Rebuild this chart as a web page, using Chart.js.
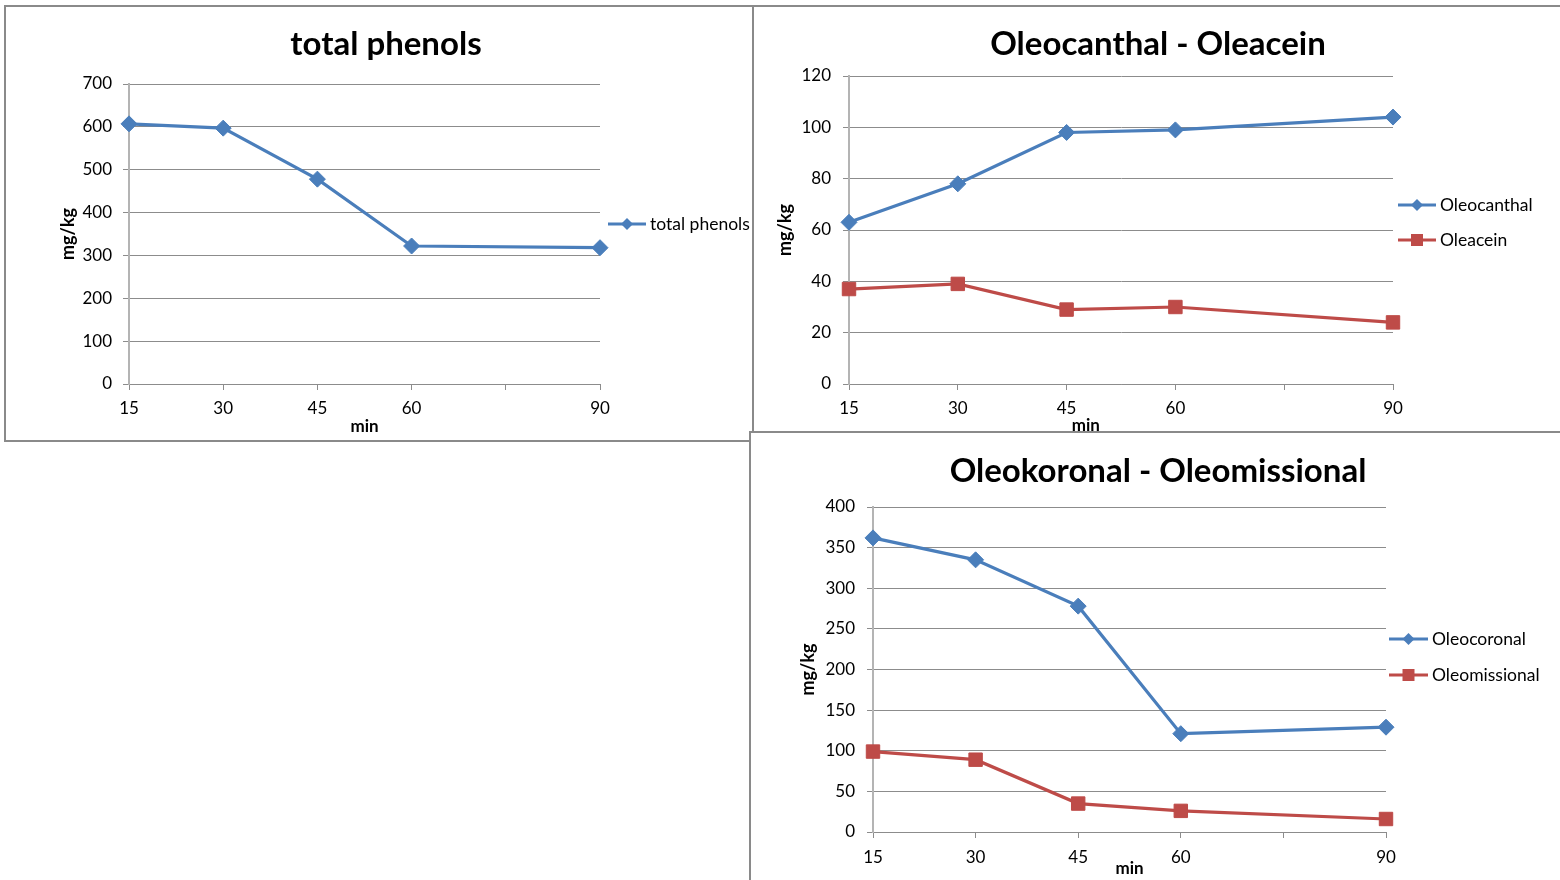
<!DOCTYPE html>
<html>
<head>
<meta charset="utf-8">
<script src="https://cdn.jsdelivr.net/npm/chart.js@4.4.1/dist/chart.umd.min.js"></script>
<style>
  html, body { margin:0; padding:0; background:#fff; width:1560px; height:880px; overflow:hidden; }
  .box { position:absolute; border:2px solid #8a8a8a; background:#fff; overflow:hidden; }
  .box canvas { position:absolute; left:0; top:0; }
</style>
</head>
<body>
<div class="box" style="left:4px;top:5px;width:746px;height:433px;"><canvas id="c1" width="746" height="433"></canvas></div>
<div class="box" style="left:752px;top:5px;width:810px;height:424px;"><canvas id="c2" width="806" height="434"></canvas></div>
<div class="box" style="left:749px;top:431px;width:813px;height:447px;"><canvas id="c3" width="809" height="447"></canvas></div>
<script>
// ---- data ----
const minutes = [15, 30, 45, 60, 90];
const xTickLabels = ['15', '30', '45', '60', '', '90'];
const totalPhenols = [607, 597, 478, 322, 318];
const oleocanthal = [63, 78, 98, 99, 104];
const oleacein = [37, 39, 29, 30, 24];
const oleocoronal = [362, 335, 278, 121, 129];
const oleomissional = [99, 89, 35, 26, 16];

// ---- style ----
const BLUE = '#4a7ebb', RED = '#be4b48';
const GRID = '#8c8c8c', AXIS = '#b4b4b4';
const FONT = 'Lato';
const TICK_SIZE = 17, AXT_SIZE = 17, LEG_SIZE = 17.5;

function pts(vals) { return minutes.map((m, i) => ({ x: m, y: vals[i] })); }

function series(label, vals, color, style) {
  return {
    label, data: pts(vals), borderColor: color, backgroundColor: color, borderWidth: 3.2,
    pointStyle: style, pointRadius: style === 'rect' ? 9.5 : 8, pointBorderWidth: 1,
    pointBorderColor: color, pointBackgroundColor: color, clip: false, tension: 0
  };
}

const sideLegend = {
  id: 'sideLegend',
  afterDraw(chart, args, opts) {
    const ctx = chart.ctx;
    ctx.save();
    chart.data.datasets.forEach((ds, i) => {
      const y = opts.ys[i], x0 = opts.x, len = opts.len, cx = x0 + len / 2;
      ctx.strokeStyle = ds.borderColor; ctx.lineWidth = 3;
      ctx.beginPath(); ctx.moveTo(x0, y); ctx.lineTo(x0 + len, y); ctx.stroke();
      ctx.fillStyle = ds.borderColor;
      ctx.beginPath();
      if (ds.pointStyle === 'rect') {
        ctx.rect(cx - 6, y - 6, 12, 12);
      } else {
        const r = 6;
        ctx.moveTo(cx - r, y); ctx.lineTo(cx, y - r); ctx.lineTo(cx + r, y); ctx.lineTo(cx, y + r); ctx.closePath();
      }
      ctx.fill();
      ctx.fillStyle = '#000'; ctx.font = LEG_SIZE + 'px ' + FONT; ctx.textBaseline = 'middle'; ctx.textAlign = 'left';
      ctx.fillText(ds.label, x0 + len + 4, y);
    });
    ctx.restore();
  }
};

function makeChart(id, c) {
  const canvas = document.getElementById(id);
  const W = canvas.width, H = canvas.height;
  const lh = c.titleSize * 1.2;
  const d = 2 * c.titleCX - W;
  const L = d > 0 ? d : 0, R = d < 0 ? -d : 0;
  const tPadTop = c.titleCY - lh / 2;
  const tPadBottom = c.area.top - tPadTop - lh;
  const axLH = AXT_SIZE * 1.2;
  const tkLH = TICK_SIZE * 1.2;
  return new Chart(canvas, {
    type: 'line',
    data: { datasets: c.datasets },
    options: {
      responsive: false, animation: false,
      layout: { padding: { left: L, right: R, top: 0, bottom: 0 } },
      plugins: {
        legend: { display: false },
        tooltip: { enabled: false },
        title: {
          display: true, text: c.title, color: '#000',
          font: { family: FONT, size: c.titleSize, weight: 'bold', lineHeight: 1.2 },
          padding: { top: tPadTop, bottom: tPadBottom }
        },
        sideLegend: c.legend
      },
      scales: {
        x: {
          type: 'linear', min: 15, max: 90,
          ticks: { stepSize: 15, padding: c.xLabelOff - 6 - tkLH / 2, color: '#000', font: { family: FONT, size: TICK_SIZE },
                   callback: (v, i) => xTickLabels[i], maxRotation: 0, autoSkip: false },
          grid: { drawOnChartArea: false, drawTicks: true, tickLength: 6, color: GRID },
          border: { display: true, color: GRID, width: 1 },
          title: { display: true, text: c.xTitle, color: '#000',
                   font: { family: FONT, size: AXT_SIZE, weight: 'bold' },
                   padding: { top: 0, bottom: (H - c.xTitleCY) - axLH / 2 } },
          afterFit: s => { s.height = H - c.area.bottom; }
        },
        y: {
          type: 'linear', position: 'left', min: 0, max: c.yMax,
          ticks: { stepSize: c.yStep, padding: c.yTickPad, color: '#000', font: { family: FONT, size: TICK_SIZE } },
          grid: { color: GRID, tickLength: 6, drawTicks: true, lineWidth: 1 },
          border: { display: true, color: AXIS, width: 2 },
          title: { display: true, text: 'mg/kg', color: '#000',
                   font: { family: FONT, size: 18, weight: 'bold' },
                   padding: { top: c.yTitleX - L - 18 * 1.2 / 2, bottom: 0 } },
          afterFit: s => { s.width = c.area.left - L; }
        },
        yr: {
          type: 'linear', position: 'right', display: true,
          ticks: { display: false }, grid: { display: false, drawTicks: false }, border: { display: false },
          afterFit: s => { s.width = W - R - c.area.right; }
        }
      }
    },
    plugins: [sideLegend]
  });
}

// chart 1 (canvas origin page 6,7)
makeChart('c1', {
  datasets: [series('total phenols', totalPhenols, BLUE, 'rectRot')],
  title: 'total phenols', titleSize: 33, titleCX: 380, titleCY: 37,
  area: { left: 123, right: 594, top: 77, bottom: 377 },
  yMax: 700, yStep: 100, yTickPad: 11, xLabelOff: 25,
  xTitle: 'min', xTitleCY: 420, yTitleX: 62,
  legend: { x: 602, len: 38, ys: [217] }
});

// chart 2 (canvas origin page 754,7)
makeChart('c2', {
  datasets: [series('Oleocanthal', oleocanthal, BLUE, 'rectRot'), series('Oleacein', oleacein, RED, 'rect')],
  title: 'Oleocanthal - Oleacein', titleSize: 33, titleCX: 404, titleCY: 37,
  area: { left: 95, right: 639, top: 69, bottom: 377 },
  yMax: 120, yStep: 20, yTickPad: 12, xLabelOff: 25,
  xTitle: 'min' + ' '.repeat(17), xTitleCY: 419, yTitleX: 31,
  legend: { x: 644, len: 38, ys: [198, 233] }
});

// chart 3 (canvas origin page 751,433)
makeChart('c3', {
  datasets: [series('Oleocoronal', oleocoronal, BLUE, 'rectRot'), series('Oleomissional', oleomissional, RED, 'rect')],
  title: 'Oleokoronal - Oleomissional', titleSize: 33, titleCX: 407, titleCY: 38,
  area: { left: 122, right: 635, top: 74, bottom: 399 },
  yMax: 400, yStep: 50, yTickPad: 12, xLabelOff: 26,
  xTitle: 'min', xTitleCY: 436, yTitleX: 57,
  legend: { x: 638, len: 39, ys: [206, 242] }
});
</script>
</body>
</html>
